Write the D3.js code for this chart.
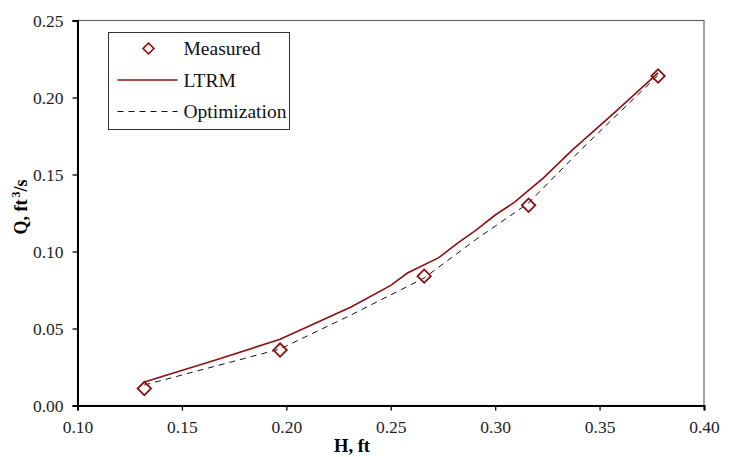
<!DOCTYPE html>
<html>
<head>
<meta charset="utf-8">
<script src="https://cdn.jsdelivr.net/npm/d3@7/dist/d3.min.js"></script>
<style>
  body { margin: 0; background: #fff; }
  text { font-family: "Liberation Serif", "Times New Roman", serif; }
</style>
</head>
<body>
<div id="chart"><svg></svg></div>
<script>
// measured points
const measuredH = [0.132, 0.197, 0.266, 0.316, 0.378]
const measuredQ = [0.011, 0.036, 0.084, 0.130, 0.214]

// LTRM model curve
const ltrmH = [0.132, 0.165, 0.197, 0.231, 0.250, 0.258, 0.273, 0.282, 0.291, 0.300, 0.309, 0.323, 0.337, 0.357, 0.378]
const ltrmQ = [0.0153, 0.029, 0.043, 0.064, 0.078, 0.086, 0.096, 0.1055, 0.114, 0.1237, 0.1317, 0.1477, 0.166, 0.190, 0.216]

// optimization curve
const optH = [0.132, 0.197, 0.231, 0.266, 0.291, 0.316, 0.341, 0.378]
const optQ = [0.0133, 0.0367, 0.0588, 0.0828, 0.108, 0.1315, 0.166, 0.2145]

const xTicks = [0.10, 0.15, 0.20, 0.25, 0.30, 0.35, 0.40]
const yTicks = [0.00, 0.05, 0.10, 0.15, 0.20, 0.25]

const red = '#8b1010'
const W = 736, H = 457
const margin = {top: 20.5, right: 32, bottom: 51.5, left: 77.5}
const width = W - margin.left - margin.right
const height = H - margin.top - margin.bottom

const svg = d3.select('#chart svg').attr('width', W).attr('height', H)

const x = d3.scaleLinear().domain([0.10, 0.40]).range([0, width])
const y = d3.scaleLinear().domain([0, 0.25]).range([height, 0])

const g = svg.append('g')
  .attr('transform', 'translate(' + margin.left + ',' + margin.top + ')')

// frame (top/right grey)
g.append('rect')
  .attr('x', 0).attr('y', 0)
  .attr('width', width).attr('height', height)
  .attr('fill', 'none')
  .attr('stroke', '#666')
  .attr('stroke-width', 1.2)

const xAxis = g.append('g')
  .attr('transform', 'translate(0,' + height + ')')
  .call(d3.axisBottom(x).tickValues(xTicks).tickFormat(d3.format('.2f')).tickSize(5).tickPadding(10))
const yAxis = g.append('g')
  .call(d3.axisLeft(y).tickValues(yTicks).tickFormat(d3.format('.2f')).tickSize(5).tickPadding(9))

;[xAxis, yAxis].forEach(a => {
  a.select('.domain').attr('stroke', '#000').attr('stroke-width', 2)
  a.selectAll('.tick line').attr('stroke', '#000').attr('stroke-width', 1.3)
  a.selectAll('.tick text')
    .attr('fill', '#222')
    .style('font-family', '"Liberation Serif", serif')
    .style('font-size', '17.5px')
})

const line = d3.line().x(d => x(d[0])).y(d => y(d[1]))

g.append('path')
  .datum(optH.map((h, i) => [h, optQ[i]]))
  .attr('fill', 'none')
  .attr('stroke', '#111')
  .attr('stroke-width', 1)
  .attr('stroke-dasharray', '6,5')
  .attr('d', line)

g.append('path')
  .datum(ltrmH.map((h, i) => [h, ltrmQ[i]]))
  .attr('fill', 'none')
  .attr('stroke', red)
  .attr('stroke-width', 1.6)
  .attr('d', line)

g.selectAll('.pt')
  .data(measuredH.map((h, i) => [h, measuredQ[i]]))
  .enter()
  .append('path')
  .attr('class', 'pt')
  .attr('transform', d => 'translate(' + x(d[0]) + ',' + y(d[1]) + ') rotate(45)')
  .attr('d', d3.symbol().type(d3.symbolSquare).size(90))
  .attr('fill', 'none')
  .attr('stroke', red)
  .attr('stroke-width', 1.8)

// axis titles
svg.append('text')
  .attr('x', 352)
  .attr('y', 452)
  .attr('text-anchor', 'middle')
  .attr('font-size', '18.5px')
  .attr('font-weight', 'bold')
  .text('H, ft')

svg.append('text')
  .attr('transform', 'translate(27,207) rotate(-90)')
  .attr('text-anchor', 'middle')
  .attr('font-size', '18px')
  .attr('font-weight', 'bold')
  .html('Q, ft<tspan dx="2" dy="-7" font-size="12px">3</tspan><tspan dy="7">/s</tspan>')

// legend
const leg = svg.append('g').attr('transform', 'translate(108.5,32.5)')
leg.append('rect')
  .attr('width', 181).attr('height', 97)
  .attr('fill', '#fff')
  .attr('stroke', '#333')
  .attr('stroke-width', 1)

const items = ['Measured', 'LTRM', 'Optimization']
items.forEach((name, i) => {
  const cy = 16 + i * 31.5
  if (i === 0) {
    leg.append('path')
      .attr('transform', 'translate(40,' + cy + ') rotate(45)')
      .attr('d', d3.symbol().type(d3.symbolSquare).size(60))
      .attr('fill', 'none')
      .attr('stroke', red)
      .attr('stroke-width', 1.6)
  } else {
    leg.append('line')
      .attr('x1', 9).attr('x2', 69)
      .attr('y1', cy).attr('y2', cy)
      .attr('stroke', i === 1 ? red : '#111')
      .attr('stroke-width', i === 1 ? 1.6 : 1)
      .attr('stroke-dasharray', i === 1 ? null : '6,5')
  }
  leg.append('text')
    .attr('x', 75)
    .attr('y', cy + 6.5)
    .attr('font-size', '19.5px')
    .attr('fill', '#111')
    .text(name)
})
</script>
</body>
</html>
